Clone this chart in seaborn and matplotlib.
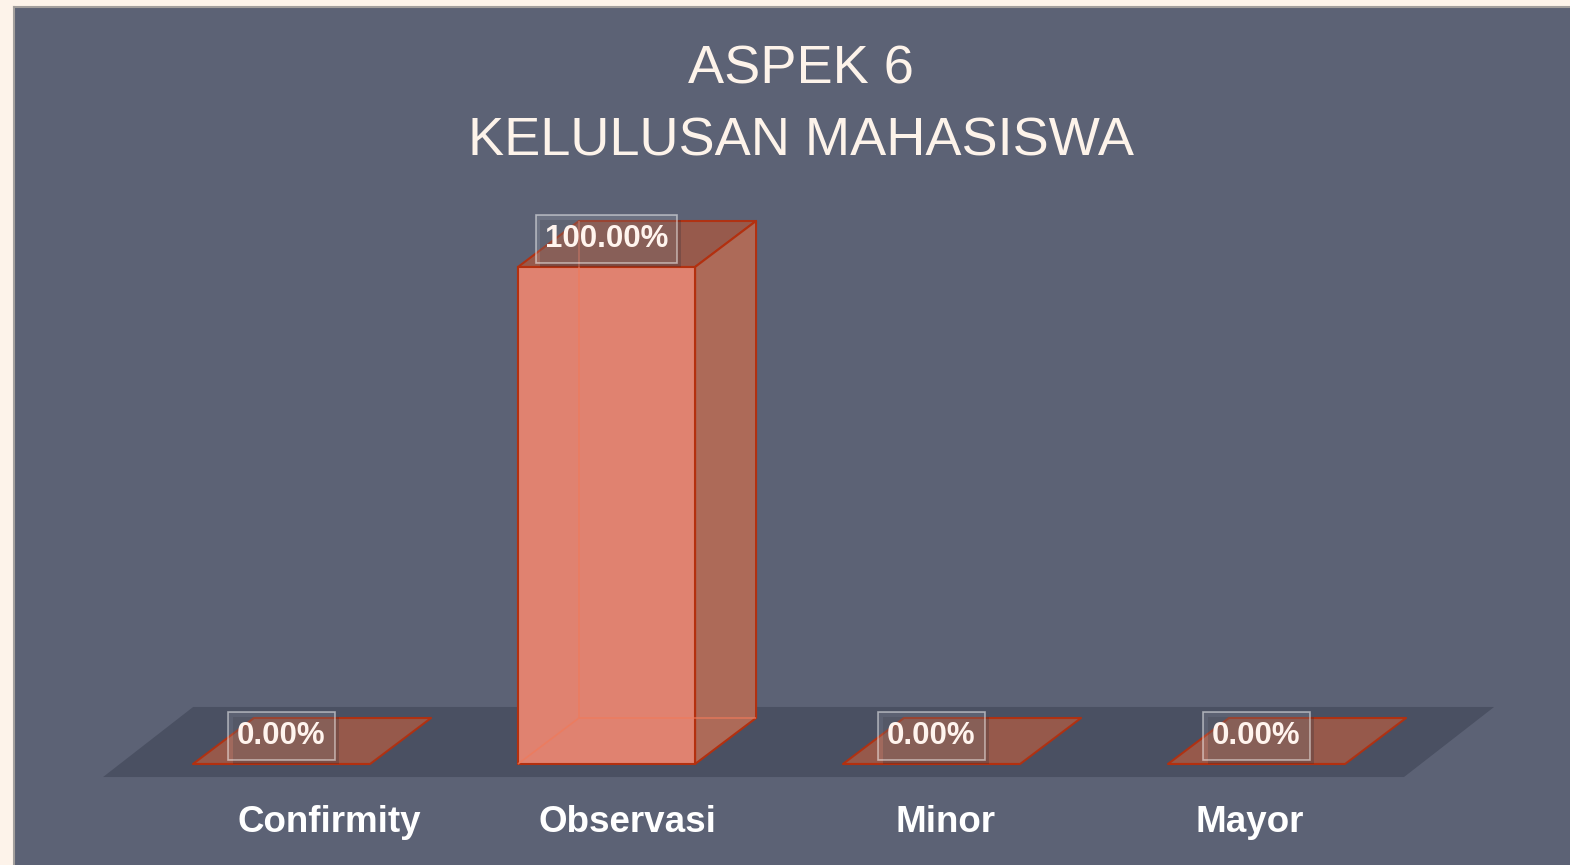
import matplotlib
matplotlib.use("Agg")
import matplotlib.pyplot as plt
import seaborn as sns
import pandas as pd
from matplotlib.patches import Polygon
import matplotlib.patheffects as pe

# ---- data ----
categories = ["Confirmity", "Observasi", "Minor", "Mayor"]
values = [0.0, 100.0, 0.0, 0.0]
value_labels = ["0.00%", "100.00%", "0.00%", "0.00%"]
title_lines = ["ASPEK 6", "KELULUSAN MAHASISWA"]

# ---- style ----
CREAM = "#fdf3ea"
SLATE = "#5c6275"
FLOOR = "#4a5062"
FRONT = "#e08270"
SIDE = "#ad6a58"
TOP = "#9b5a4a"
EDGE = "#b3300f"
HIDDEN = "#f07a5a"
label_shift = [0.146, 0.065, 0.043, -0.022]   # perspective shift of category labels

plt.rcParams["font.family"] = ["Liberation Sans", "DejaVu Sans"]

W, H = 1570, 865
fig = plt.figure(figsize=(W / 100, H / 100), dpi=100, facecolor=CREAM)
ax = fig.add_axes([14 / W, 0, 1 - 14 / W, 1 - 7 / H])
ax.set_facecolor(SLATE)

df = pd.DataFrame({"cat": categories, "val": values})
bar_w = 0.545
sns.barplot(data=df, x="cat", y="val", ax=ax, width=bar_w, color=FRONT,
            saturation=1, edgecolor=EDGE, linewidth=1.5, zorder=4)

# axis scaling (3D-ish projection)
PX_X = 325.0     # px per category
PX_Y = 4.97      # px per percent
ax.set_xlim((14 - 281.5) / PX_X, (1570 - 281.5) / PX_X)
ax.set_ylim((764 - 865) / PX_Y, (764 - 7) / PX_Y)
DX = 61 / PX_X
DY = 46 / PX_Y

# floor
fl_b, fl_t = -2.62, 11.47
fl_x0, fl_x1, fl_dx = -0.549, 3.454, 0.277
ax.add_patch(Polygon([(fl_x0, fl_b), (fl_x1, fl_b), (fl_x1 + fl_dx, fl_t), (fl_x0 + fl_dx, fl_t)],
                     closed=True, facecolor=FLOOR, edgecolor="none", zorder=1))

for p, lab in zip(ax.patches[:len(categories)], value_labels):
    x0, w, h = p.get_x(), p.get_width(), p.get_height()
    # top face
    ax.add_patch(Polygon([(x0, h), (x0 + w, h), (x0 + w + DX, h + DY), (x0 + DX, h + DY)],
                         closed=True, facecolor=TOP, edgecolor=EDGE, lw=1.5, alpha=0.95, zorder=3,
                         joinstyle="round"))
    if h > 0:
        # side face
        ax.add_patch(Polygon([(x0 + w, 0), (x0 + w + DX, DY), (x0 + w + DX, h + DY), (x0 + w, h)],
                             closed=True, facecolor=SIDE, edgecolor=EDGE, lw=1.5, zorder=3,
                             joinstyle="round"))
        # hidden edges (seen through the translucent bar)
        for xs, ys in [([x0 + DX, x0 + DX], [DY, h + DY]),
                       ([x0 + DX, x0 + w + DX], [DY, DY]),
                       ([x0, x0 + DX], [0, DY])]:
            ax.plot(xs, ys, color=HIDDEN, lw=1.2, alpha=0.7, zorder=5, solid_capstyle="butt")
    # value label
    t = ax.annotate(lab, xy=(x0 + w / 2, h), xytext=(0, 20), textcoords="offset points",
                    ha="center", va="center", fontsize=22.5, fontweight="bold", color="#fff4ee",
                    zorder=7,
                    bbox=dict(boxstyle="square,pad=0.28", facecolor=(1, 1, 1, 0.10),
                              edgecolor=(1, 1, 1, 0.5), linewidth=1.2))
    t.get_bbox_patch().set_path_effects([pe.SimplePatchShadow(offset=(3, -3), shadow_rgbFace="#2a2a35", alpha=0.25),
                                         pe.Normal()])

# category labels
for i, c in enumerate(categories):
    ax.text(i + label_shift[i], (764 - 823) / PX_Y, c, ha="center", va="center",
            fontsize=26.5, fontweight="bold", color="white", zorder=6)

ax.set_xticks([])
ax.set_yticks([])
ax.set_xlabel("")
ax.set_ylabel("")
for s in ["right", "bottom"]:
    ax.spines[s].set_visible(False)
for s in ["left", "top"]:
    ax.spines[s].set_visible(True)
    ax.spines[s].set_color("#a39f9d")
    ax.spines[s].set_linewidth(1.5)

# title
fig.text(801 / W, 1 - 83 / H, title_lines[0], ha="center", va="baseline",
         fontsize=39, color=CREAM)
fig.text(801 / W, 1 - 155 / H, title_lines[1], ha="center", va="baseline",
         fontsize=39, color=CREAM)

fig.savefig("out.png", dpi=100, facecolor=CREAM)
